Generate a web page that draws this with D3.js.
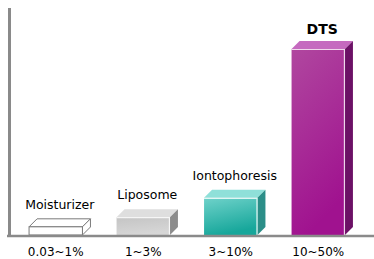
<!DOCTYPE html>
<html>
<head>
<meta charset="utf-8">
<script src="https://cdn.jsdelivr.net/npm/d3@7"></script>
<style>
  body { margin: 0; background: #fff; }
  svg { display: block; }
</style>
</head>
<body>
<div id="chart"></div>
<script>
const methods = ["Moisturizer", "Liposome", "Iontophoresis", "DTS"];
const ranges = ["0.03~1%", "1~3%", "3~10%", "10~50%"];
const values = [2.2, 4.8, 10, 50];

const palettes = [
  { front: ["#ffffff", "#ffffff"], top: "#ffffff", side: "#ffffff", stroke: "#7a7a7a" },
  { front: ["#c4c4c4", "#d6d6d6"], top: "#dedede", side: "#8c8c8c", stroke: null },
  { front: ["#6fd2ca", "#17a79b"], top: "#8fe0d9", side: "#2b8e88", stroke: null },
  { front: ["#b0479f", "#a0128f"], top: "#c56abf", side: "#6c1166", stroke: null }
];

const width = 374, height = 259;
const baseY = 235;
const dx = 8, dy = 8;

const svg = d3.select("#chart").append("svg")
  .attr("width", width)
  .attr("height", height);

const defs = svg.append("defs");
palettes.forEach((p, i) => {
  const g = defs.append("linearGradient")
    .attr("id", "grad" + i)
    .attr("x1", 0).attr("y1", 0).attr("x2", 0.3).attr("y2", 1);
  g.append("stop").attr("offset", "0%").attr("stop-color", p.front[0]);
  g.append("stop").attr("offset", "100%").attr("stop-color", p.front[1]);
});

const x = d3.scaleBand()
  .domain(methods)
  .range([12, 362])
  .paddingInner(0.39)
  .paddingOuter(0.195);

const y = d3.scaleLinear()
  .domain([0, 50])
  .range([baseY, 49]);

const bw = x.bandwidth();
const idx = d => methods.indexOf(d);

const bars = svg.append("g").selectAll("g")
  .data(methods)
  .join("g");

// top face
bars.append("polygon")
  .attr("points", d => {
    const x0 = x(d), y0 = y(values[idx(d)]);
    return [[x0, y0], [x0 + dx, y0 - dy], [x0 + bw + dx, y0 - dy], [x0 + bw, y0]].join(" ");
  })
  .attr("fill", d => palettes[idx(d)].top)
  .attr("stroke", d => palettes[idx(d)].stroke || "none")
  .attr("stroke-width", 1);

// side face
bars.append("polygon")
  .attr("points", d => {
    const x0 = x(d) + bw, y0 = y(values[idx(d)]);
    return [[x0, y0], [x0 + dx, y0 - dy], [x0 + dx, baseY - dy], [x0, baseY]].join(" ");
  })
  .attr("fill", d => palettes[idx(d)].side)
  .attr("stroke", d => palettes[idx(d)].stroke || "none")
  .attr("stroke-width", 1);

// front face
bars.append("rect")
  .attr("x", d => x(d))
  .attr("y", d => y(values[idx(d)]))
  .attr("width", bw)
  .attr("height", d => baseY - y(values[idx(d)]))
  .attr("fill", d => `url(#grad${idx(d)})`)
  .attr("stroke", d => palettes[idx(d)].stroke || "none")
  .attr("stroke-width", 1);

// light edge highlights
bars.filter(d => !palettes[idx(d)].stroke).append("path")
  .attr("d", d => {
    const x0 = x(d), y0 = y(values[idx(d)]);
    return `M${x0},${y0 + 0.5}H${x0 + bw - 0.5}V${baseY}`;
  })
  .attr("fill", "none")
  .attr("stroke", "#ffffff")
  .attr("stroke-opacity", 0.8)
  .attr("stroke-width", 1.2);

// method labels above bars
bars.append("text")
  .attr("x", d => x(d) + bw / 2 + dx / 2)
  .attr("y", d => y(values[idx(d)]) - dy - (d === "DTS" ? 7 : 10))
  .attr("text-anchor", "middle")
  .attr("font-family", "DejaVu Sans, Verdana, sans-serif")
  .attr("font-size", d => d === "DTS" ? 14 : 12.5)
  .attr("font-weight", d => d === "DTS" ? "bold" : "normal")
  .attr("fill", "#000")
  .text(d => d);

// axes
svg.append("line")
  .attr("x1", 9.5).attr("x2", 9.5)
  .attr("y1", 8).attr("y2", baseY + 2)
  .attr("stroke", "#8a8a8a")
  .attr("stroke-width", 3);

svg.append("line")
  .attr("x1", 7).attr("x2", width)
  .attr("y1", baseY + 1).attr("y2", baseY + 1)
  .attr("stroke", "#8a8a8a")
  .attr("stroke-width", 2.5);

// range labels
svg.append("g").selectAll("text")
  .data(ranges)
  .join("text")
  .attr("x", (d, i) => x(methods[i]) + bw / 2)
  .attr("y", 256)
  .attr("text-anchor", "middle")
  .attr("font-family", "DejaVu Sans, Verdana, sans-serif")
  .attr("font-size", 12)
  .attr("fill", "#000")
  .text(d => d);
</script>
</body>
</html>
